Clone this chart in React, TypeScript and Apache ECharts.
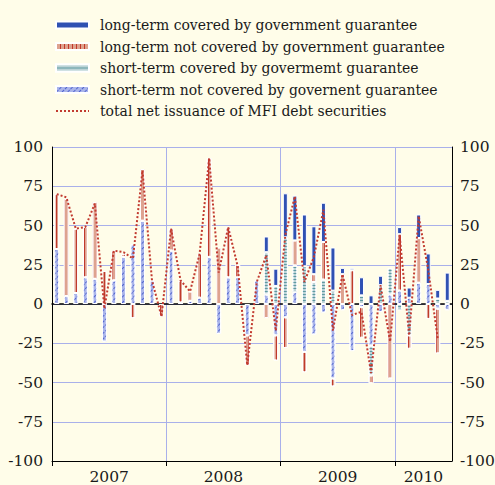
import React, { useEffect, useRef } from "react";
import * as echarts from "echarts";

// Monthly data, Jan 2007 - Jun 2010 (EUR billions)
const months = [
  "2007-01","2007-02","2007-03","2007-04","2007-05","2007-06","2007-07","2007-08","2007-09","2007-10","2007-11","2007-12",
  "2008-01","2008-02","2008-03","2008-04","2008-05","2008-06","2008-07","2008-08","2008-09","2008-10","2008-11","2008-12",
  "2009-01","2009-02","2009-03","2009-04","2009-05","2009-06","2009-07","2009-08","2009-09","2009-10","2009-11","2009-12",
  "2010-01","2010-02","2010-03","2010-04","2010-05","2010-06",
];

const longTermCovered = [
  null, null, null, null, null, null, null, null, null, null, null, null,
  null, null, null, null, null, null, null, null, null, null, 10, 11,
  28, 28.5, 33, 30.5, 25, 27.5, 4, 1.5, 11.5, 5.5, 6, -1,
  4.5, 6.5, 15, 19.5, 5.5, 18,
];
const longTermNotCovered = [
  35, 62, 41, 32, 49, 21, 19, 2, -9, 33, null, -8,
  14, 14, 6, 28, 63, 36, 32, 8, -19, null, -9, -16,
  -19.5, 16, -13, 5, 24, -5, 19, 21.5, -19.5, -5, null, -47.5,
  36, -8.5, 28.5, -9.5, -28.5, null,
];
const shortTermCovered = [
  null, null, null, null, null, null, null, null, null, null, null, null,
  null, null, null, null, null, null, null, null, null, null, 27, 11.5,
  42.5, 17, 24, 14, 15.5, 8.5, null, null, 5.5, -19, 12, 17,
  -4, -20, null, null, 3.5, 2,
];
const shortTermNotCovered = [
  35, 5, 7, 17, 16, -24, 15, 30, 38, 53, 15, null,
  34, 1, 2, 4, 30, -19, 17, 17, -20, 15, 6, -20,
  -8.5, 7.5, -30.5, -19.5, -5.5, -47.5, -4, -30, -2, -26.5, -5, 6,
  8.5, 4, 13.5, 12.7, -3, -4,
];
const totalNetIssuance = [
  70, 68, 48, 49, 64, -3, 34, 33, 29, 85, 15, -8,
  48, 15, 8, 32, 93, 20, 49, 24, -39, 14, 31, -17,
  44, 68.5, 14, 30, 60, -17, 19, -7, -5, -44, 12, -24,
  44, -20, 56, 22, -22, null,
];

const yearLabels = ["2007", "2008", "2009", "2010"];

const NAMES = [
  "long-term covered by government guarantee",
  "long-term not covered by government guarantee",
  "short-term covered by govermemt guarantee",
  "short-term not covered by governent guarantee",
  "total net issuance of MFI debt securities",
];

const LEGEND_FONT = "DejaVu Serif Condensed";
const AXIS_FONT = "DejaVu Serif";
const GRID_COLOR = "#a9b0ea";
const TEXT_COLOR = "#1a1a1a";

export default function App() {
  const ref = useRef<HTMLDivElement>(null);

  useEffect(() => {
    if (!ref.current) return;
    const chart = echarts.init(ref.current, null, { renderer: "svg" });

    const barBase = {
      type: "bar" as const,
      stack: "issuance",
      barWidth: 5,
      xAxisIndex: 0,
      yAxisIndex: 0,
      z: 2,
    };

    const option = {
      animation: false,
      backgroundColor: "#fffde9",
      grid: {
        left: 52,
        right: 43,
        top: 147,
        bottom: 24,
        containLabel: false,
        outerBoundsMode: "none",
      },
      legend: {
        orient: "vertical",
        left: 50,
        top: 12,
        itemWidth: 33,
        itemHeight: 7,
        itemGap: 5.5,
        textStyle: {
          fontFamily: LEGEND_FONT,
          fontSize: 15.5,
          color: TEXT_COLOR,
          lineHeight: 16,
          padding: [0, 0, 0, 6],
        },
        data: [
          { name: NAMES[0], icon: "rect" },
          { name: NAMES[1], icon: "rect" },
          { name: NAMES[2], icon: "rect" },
          { name: NAMES[3], icon: "rect" },
          { name: NAMES[4], itemStyle: { opacity: 0 } },
        ],
      },
      xAxis: [
        {
          type: "category",
          data: months,
          boundaryGap: true,
          position: "top",
          axisLine: { show: true, onZero: true, lineStyle: { color: "#000", width: 1.5 } },
          axisTick: { show: false },
          axisLabel: { show: false },
          splitLine: { show: false },
        },
        {
          type: "value",
          min: 0,
          max: 42,
          interval: 12,
          position: "bottom",
          axisLine: { show: true, onZero: false, lineStyle: { color: "#000", width: 1 } },
          axisTick: {
            show: true,
            customValues: [0, 12, 24, 36],
            length: 5,
            lineStyle: { color: "#000", width: 1 },
          },
          axisLabel: {
            show: true,
            customValues: [6, 18, 30, 39],
            formatter: (v: number) => yearLabels[Math.floor(v / 12)] ?? "",
            fontFamily: AXIS_FONT,
            fontSize: 15.5,
            color: TEXT_COLOR,
            margin: 8,
          },
          splitLine: { show: true, lineStyle: { color: GRID_COLOR, width: 1 } },
        },
      ],
      yAxis: [
        {
          type: "value",
          min: -100,
          max: 100,
          interval: 25,
          position: "left",
          axisLine: { show: true, onZero: false, lineStyle: { color: "#000", width: 1 } },
          axisTick: { show: false },
          axisLabel: { fontFamily: AXIS_FONT, fontSize: 15.5, color: TEXT_COLOR, margin: 9 },
          splitLine: { show: true, lineStyle: { color: GRID_COLOR, width: 1 } },
        },
        {
          type: "value",
          min: -100,
          max: 100,
          interval: 25,
          position: "right",
          axisLine: { show: true, onZero: false, lineStyle: { color: "#000", width: 1 } },
          axisTick: { show: false },
          axisLabel: { fontFamily: AXIS_FONT, fontSize: 15.5, color: TEXT_COLOR, margin: 8 },
          splitLine: { show: false },
        },
      ],
      series: [
        {
          ...barBase,
          name: NAMES[3],
          data: shortTermNotCovered,
          itemStyle: {
            color: "#aab5ea",
            borderColor: "#ffffff",
            borderWidth: 1,
            decal: {
              symbol: "rect",
              symbolSize: 1,
              color: "#5366cf",
              backgroundColor: "#aab5ea",
              dashArrayX: [3, 1],
              dashArrayY: [1, 3],
              rotation: -Math.PI / 4,
            },
          },
        },
        {
          ...barBase,
          name: NAMES[2],
          data: shortTermCovered,
          itemStyle: {
            color: "#bcd3d6",
            borderColor: "#ffffff",
            borderWidth: 1,
            decal: {
              symbol: "rect",
              symbolSize: 1,
              color: "#5e9aa2",
              backgroundColor: "#bcd3d6",
              dashArrayX: [8, 0],
              dashArrayY: [1, 2],
            },
          },
        },
        {
          ...barBase,
          name: NAMES[1],
          data: longTermNotCovered,
          itemStyle: {
            color: "#dea28f",
            borderColor: "#ffffff",
            borderWidth: 1,
            decal: {
              symbol: "rect",
              symbolSize: 1,
              color: "#c0392c",
              backgroundColor: "#dea28f",
              dashArrayX: [1, 3],
              dashArrayY: [8, 0],
            },
          },
        },
        {
          ...barBase,
          name: NAMES[0],
          data: longTermCovered,
          itemStyle: { color: "#2f51b3", borderColor: "#ffffff", borderWidth: 1 },
        },
        {
          type: "line",
          name: NAMES[4],
          data: totalNetIssuance,
          xAxisIndex: 0,
          yAxisIndex: 0,
          symbol: "none",
          z: 5,
          connectNulls: false,
          lineStyle: { color: "#c23b30", width: 2, type: [2, 2] },
          itemStyle: { color: "#c23b30" },
        },
      ],
    };

    chart.setOption(option as any);
    return () => chart.dispose();
  }, []);

  return (
    <div
      ref={ref}
      style={{ position: "fixed", left: 0, top: 0, width: 495, height: 485 }}
    />
  );
}
